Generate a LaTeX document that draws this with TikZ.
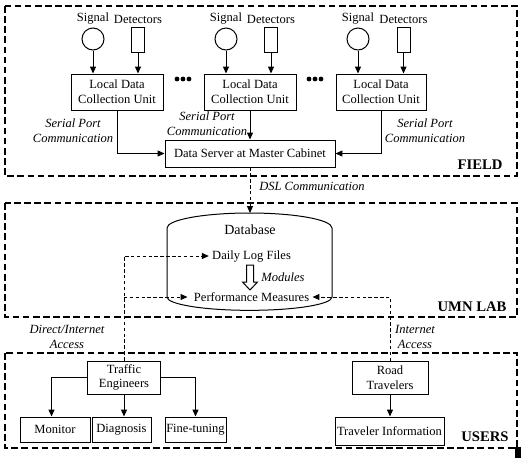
\documentclass[tikz,border=0pt]{standalone}
\usepackage{fontspec}
\setmainfont{Liberation Serif}
\usetikzlibrary{arrows.meta,calc}
\newlength\px \setlength\px{0.75pt}
\begin{document}
\begin{tikzpicture}[x=0.75pt,y=-0.75pt,
 every node/.style={font=\fontsize{9.4}{11}\selectfont,inner sep=0pt},
 box/.style={draw,line width=0.75pt,inner sep=0pt,align=center},
 lbl/.style={font=\fontsize{9.4}{11}\selectfont\itshape,align=center,inner sep=0pt},
 zone/.style={draw,line width=0.9pt,dash pattern=on 5pt off 2.6pt},
 zonelbl/.style={font=\fontsize{11}{13}\selectfont\bfseries,inner sep=0pt},
 arr/.style={line width=0.75pt,-{Triangle[length=5.2pt,width=4.5pt]}},
 dsh/.style={dash pattern=on 2.6pt off 1.8pt},
 sens/.style={draw,circle,line width=0.75pt,minimum size=22*\px,inner sep=0pt},
 det/.style={draw,line width=0.75pt,minimum width=13*\px,minimum height=25*\px,inner sep=0pt},
 ldcu/.style={box,minimum width=92*\px,minimum height=36*\px},
]
\useasboundingbox (0,0) rectangle (524,458);

% zones
\draw[zone] (5,6) rectangle (517,176);
\draw[zone] (5,203) rectangle (517,317);
\draw[zone] (5,353) rectangle (517,448);
\node[zonelbl] (field) at (480,165) {FIELD};
\node[zonelbl] (umn) at (472,307) {UMN LAB};
\node[zonelbl] (users) at (485,437) {USERS};
\fill (515,447) rectangle (521,458);

% detector groups
\node (s1) at (93,19) {Signal}; \node (d1) at (138,19) {Detectors};
\node (s2) at (226,19) {Signal}; \node (d2) at (271,19) {Detectors};
\node (s3) at (358,19) {Signal}; \node (d3) at (403.5,19) {Detectors};
\node[sens] (c1) at (93,39) {};
\node[det] (r1) at (138,39.5) {};
\node[sens] (c2) at (226,39) {};
\node[det] (r2) at (271,39.5) {};
\node[sens] (c3) at (358,39) {};
\node[det] (r3) at (403.5,39.5) {};

\node[ldcu] (l1) at (117,92) {Local Data\\Collection Unit};
\node[ldcu] (l2) at (250,92) {Local Data\\Collection Unit};
\node[ldcu,minimum width=90*\px] (l3) at (381,92) {Local Data\\Collection Unit};

\foreach \i in {1,2,3}{
  \draw[arr] (c\i.south) -- (c\i.south |- l\i.north);
  \draw[arr] (r\i.south) -- (r\i.south |- l\i.north);
}

% dots
\foreach \x in {177,183,189,309,315,321}{
  \fill (\x,79) circle[radius=1.8pt];
}

\node[box,minimum width=170*\px,minimum height=27*\px] (ds) at (250,153.5) {Data Server at Master Cabinet};
\draw[arr] (l1.south) |- (ds.west);
\draw[arr] (l2.south) -- (ds.north);
\draw[arr] (l3.south) |- (ds.east);

\node[lbl] (sp1) at (73,131) {Serial Port\\Communication};
\node[lbl] (sp2) at (207,124) {Serial Port\\Communication};
\node[lbl] (sp3) at (425,131) {Serial Port\\Communication};

% database
\draw[line width=0.75pt] (167,228) arc[start angle=180,end angle=0,x radius=82.5*\px,y radius=11.25pt]
  -- (332,297) arc[start angle=0,end angle=-180,x radius=82.5*\px,y radius=10pt] -- cycle;
\coordinate (dbtop) at (250,213);
\node (db) at (250,230) {\fontsize{10.5}{12}\selectfont Database};
\node (dlf) at (250,256) {\ Daily Log Files\ };
\node (pm) at (250,297) {\ \ Performance Measures\ \ };
\node[lbl] (mod) at (283,277) {Modules};
\draw[line width=0.75pt,fill=white] (246.5,265) -- (253.5,265) -- (253.5,282) -- (257.5,282)
  -- (250,290) -- (242.5,282) -- (246.5,282) -- cycle;

\draw[arr,dsh] (ds.south) -- (dbtop);
\node[lbl] (dsl) at (312,186) {DSL Communication};

% users
\node[box,minimum width=73*\px,minimum height=33*\px] (te) at (124,377.5) {Traffic\\Engineers};
\node[box,minimum width=70*\px,minimum height=25*\px] (mon) at (55,429.5) {Monitor};
\node[box,minimum width=59*\px,minimum height=25*\px] (diag) at (121.5,429.5) {Diagnosis};
\node[box,minimum width=61*\px,minimum height=25*\px] (ft) at (195.5,429.5) {Fine-tuning};
\node[box,minimum width=76*\px,minimum height=33*\px] (rt) at (390,378) {Road\\Travelers};
\node[box,minimum width=109*\px,minimum height=28*\px] (ti) at (389.5,431) {Traveler Information};

\draw[arr] (te.west) -| ([xshift=-2.6pt]mon.north);
\draw[arr] (te.south) -- (te.south |- diag.north);
\draw[arr] (te.east) -| (ft.north);
\draw[arr] (rt.south) -- (rt.south |- ti.north);

% access paths
\draw[arr,dsh] (te.north) |- (dlf.west);
\draw[arr,dsh] (te.north |- pm.west) -- (pm.west);
\draw[arr,dsh] (rt.north) |- (pm.east);
\node[lbl] (dia) at (67,337) {Direct/Internet\\Access};
\node[lbl] (ia) at (415,337) {Internet\\Access};
\end{tikzpicture}
\end{document}
